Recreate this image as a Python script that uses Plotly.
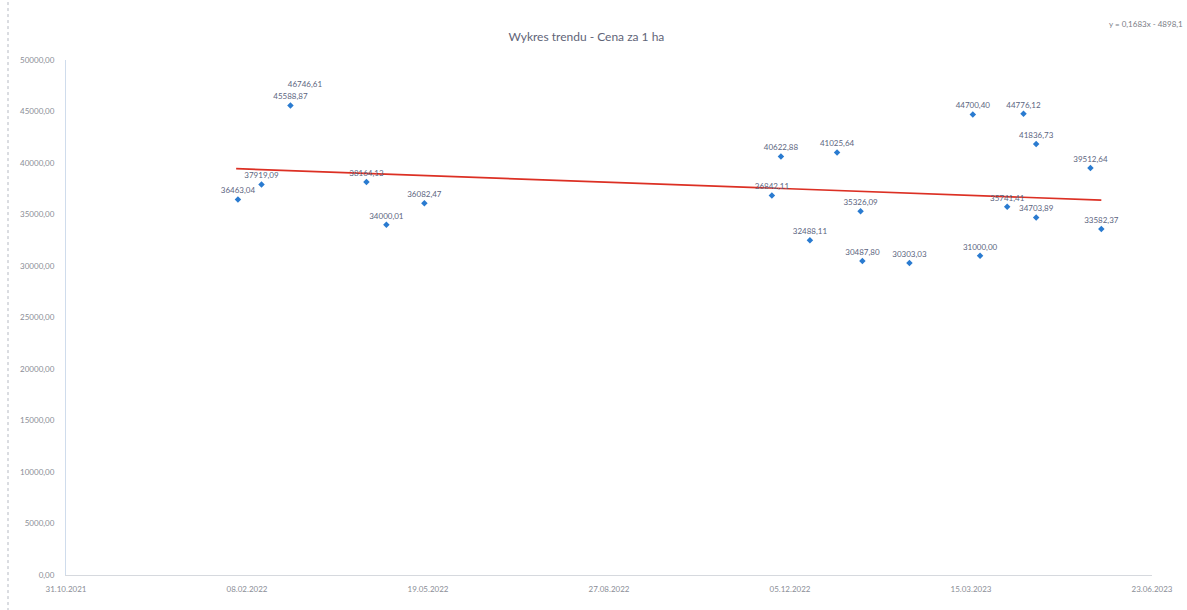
import plotly.graph_objects as go

# ---- data ----
dates = ["2022-02-03", "2022-02-16", "2022-03-04", "2022-03-12", "2022-04-15", "2022-04-26",
         "2022-05-17", "2022-11-25", "2022-11-30", "2022-12-31", "2022-12-16", "2023-01-13",
         "2023-01-14", "2023-02-09", "2023-03-16", "2023-04-13", "2023-04-20", "2023-05-20",
         "2023-04-04", "2023-04-20", "2023-05-26", "2023-03-20"]
prices = [36463.04, 37919.09, 45588.87, 46746.61, 38164.13, 34000.01,
          36082.47, 36842.11, 40622.88, 41025.64, 32488.11, 35326.09,
          30487.80, 30303.03, 44700.40, 44776.12, 41836.73, 39512.64,
          35741.41, 34703.89, 33582.37, 31000.00]
labels = ["36463,04", "37919,09", "45588,87", "46746,61", "38164,13", "34000,01",
          "36082,47", "36842,11", "40622,88", "41025,64", "32488,11", "35326,09",
          "30487,80", "30303,03", "44700,40", "44776,12", "41836,73", "39512,64",
          "35741,41", "34703,89", "33582,37", "31000,00"]
hidden_marker = [1, 1, 1, 0, 1, 1, 1, 1, 1, 1, 1, 1, 1, 1, 1, 1, 1, 1, 1, 1, 1, 1]

trend_dates = ["2022-02-02", "2023-05-26"]
trend_values = [39450.0, 36400.0]

x_tick_dates = ["2021-10-31", "2022-02-08", "2022-05-19", "2022-08-27",
                "2022-12-05", "2023-03-15", "2023-06-23"]
x_tick_labels = ["31.10.2021", "08.02.2022", "19.05.2022", "27.08.2022",
                 "05.12.2022", "15.03.2023", "23.06.2023"]
y_ticks = [0, 5000, 10000, 15000, 20000, 25000, 30000, 35000, 40000, 45000, 50000]
y_tick_labels = ["0,00", "5000,00", "10000,00", "15000,00", "20000,00", "25000,00",
                 "30000,00", "35000,00", "40000,00", "45000,00", "50000,00"]

title_text = "Wykres trendu - Cena za 1 ha"
equation_text = "y = 0,1683x - 4898,1"

FONT = "Lato, 'Open Sans', sans-serif"
TXT = "#5c6580"

fig = go.Figure()

fig.add_trace(go.Scatter(
    x=trend_dates, y=trend_values, mode="lines",
    line=dict(color="#dc3024", width=1.7),
    hoverinfo="skip", showlegend=False,
))

fig.add_trace(go.Scatter(
    x=dates, y=prices, mode="markers+text",
    text=labels, textposition="top center",
    textfont=dict(family=FONT, size=8, color=TXT),
    marker=dict(symbol="diamond", size=5, color="#2a7bd0", opacity=hidden_marker),
    showlegend=False,
))

fig.update_layout(
    width=1187, height=610,
    margin=dict(l=66, r=35, t=60, b=35),
    paper_bgcolor="white", plot_bgcolor="white",
    font=dict(family=FONT, color=TXT),
    title=dict(text=title_text, x=0.494, xanchor="center", y=0.94, yanchor="middle",
               font=dict(family=FONT, size=12, color="#5f6478")),
    showlegend=False,
)

fig.update_xaxes(
    type="date", range=["2021-10-31", "2023-06-23"],
    tickmode="array", tickvals=x_tick_dates, ticktext=x_tick_labels,
    tickfont=dict(family=FONT, size=8, color="#8a8d96"),
    showgrid=False, zeroline=False,
    showline=True, linecolor="#d6d9de", linewidth=1,
    ticks="", ticklabelstandoff=6,
)
fig.update_yaxes(
    range=[0, 50000],
    tickmode="array", tickvals=y_ticks, ticktext=y_tick_labels,
    tickfont=dict(family=FONT, size=8, color="#8a8d96"),
    showgrid=False, zeroline=False,
    showline=True, linecolor="#cfdcec", linewidth=1,
    ticks="", ticklabelstandoff=9,
)

fig.add_annotation(
    text=equation_text, xref="paper", yref="paper",
    x=1.03, y=1.07, xanchor="right", yanchor="middle", showarrow=False,
    font=dict(family=FONT, size=8, color="#7a7d86"),
)

# faint ruler line at the very left edge of the picture
fig.add_shape(type="line", xref="paper", yref="paper",
              x0=-0.0534, x1=-0.0534, y0=-0.07, y1=1.12,
              line=dict(color="#b5b9c2", width=1, dash="dot"))

fig.write_html("out.html")
